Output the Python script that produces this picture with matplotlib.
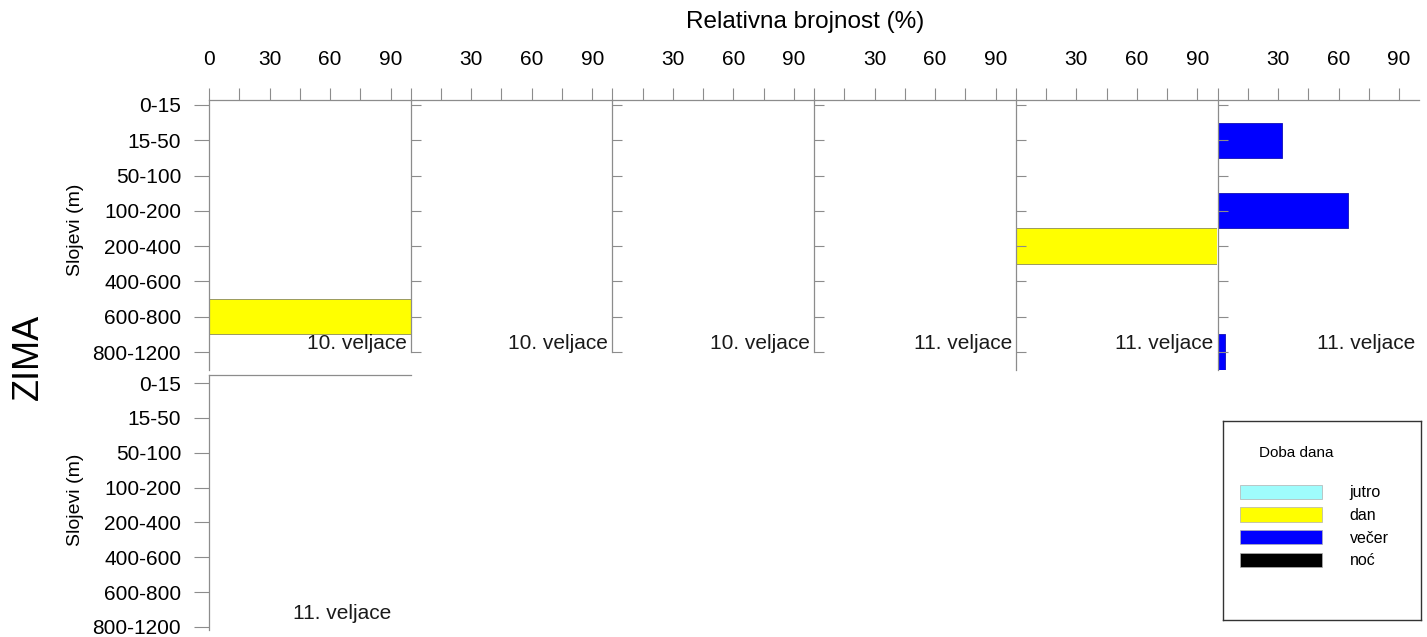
import matplotlib
matplotlib.use('Agg')
import matplotlib.pyplot as plt
from matplotlib.patches import Patch

plt.rcParams['font.family'] = ['Liberation Sans', 'DejaVu Sans']

# depth layers, top to bottom
layers = ['0-15', '15-50', '50-100', '100-200', '200-400', '400-600', '600-800', '800-1200']
panel_dates = ['10. veljace', '10. veljace', '10. veljace', '11. veljace', '11. veljace', '11. veljace']
bottom_date = '11. veljace'

# relative abundance (%) per panel, one value per layer
dan_by_panel = [
    [0, 0, 0, 0, 0, 0, 100, 0],
    [0, 0, 0, 0, 0, 0, 0, 0],
    [0, 0, 0, 0, 0, 0, 0, 0],
    [0, 0, 0, 0, 0, 0, 0, 0],
    [0, 0, 0, 0, 100, 0, 0, 0],
    [0, 0, 0, 0, 0, 0, 0, 0],
]
vecer_by_panel = [
    [0, 0, 0, 0, 0, 0, 0, 0],
    [0, 0, 0, 0, 0, 0, 0, 0],
    [0, 0, 0, 0, 0, 0, 0, 0],
    [0, 0, 0, 0, 0, 0, 0, 0],
    [0, 0, 0, 0, 0, 0, 0, 0],
    [0, 32, 0, 64.5, 0, 0, 0, 3.5],
]

legend_labels = ['jutro', 'dan', 'večer', 'noć']
legend_colors = ['#9ffcfc', '#ffff00', '#0000ff', '#000000']

W, H = 1427, 637
fig = plt.figure(figsize=(W / 100, H / 100), dpi=100)
grey = '#8c8c8c'


def px_axes(x0, y0, x1, y1):
    return fig.add_axes([x0 / W, 1 - y1 / H, (x1 - x0) / W, (y1 - y0) / H])


def draw_bars(ax, values, color, edge):
    idx = [k for k, v in enumerate(values) if v > 0]
    ax.barh(idx, [values[k] for k in idx], height=1.0, color=color,
            edgecolor=edge, linewidth=0.7)


panel_w = 201.7
for i in range(6):
    left = 209 + i * panel_w
    ax = px_axes(left, 100, left + panel_w, 370)
    ax.set_xlim(0, 100)
    ax.set_ylim(7.51, -0.14)
    draw_bars(ax, dan_by_panel[i], legend_colors[1], '#9a9a60')
    draw_bars(ax, vecer_by_panel[i], legend_colors[2], '#2020c0')

    ax.xaxis.tick_top()
    ax.set_xticks([0, 30, 60, 90])
    ax.set_xticks([15, 45, 75], minor=True)
    ax.set_xticklabels(['0' if i == 0 else '', '30', '60', '90'])
    ax.tick_params(axis='x', which='both', direction='out', length=9, width=0.8,
                   color=grey, labelsize=15, pad=13, top=True, bottom=False)

    ax.set_yticks(range(len(layers)))
    if i == 0:
        ax.set_yticklabels(layers)
        ax.tick_params(axis='y', direction='out', length=11, width=0.8,
                       color=grey, labelsize=15, pad=9)
    else:
        ax.set_yticklabels([])
        ax.tick_params(axis='y', direction='in', length=7, width=0.8, color=grey)

    for s in ('right', 'bottom'):
        ax.spines[s].set_visible(False)
    for s in ('left', 'top'):
        ax.spines[s].set_color(grey)
        ax.spines[s].set_linewidth(0.9)
    if i in (1, 2, 3):
        ax.spines['left'].set_bounds(-0.14, 7.0)
    ax.patch.set_alpha(0)

    ax.text(98, 6.75, panel_dates[i], ha='right', va='center', fontsize=15, color='#1a1a1a')

# bottom panel
axb = px_axes(209, 375, 209 + panel_w, 630)
axb.set_xlim(0, 100)
axb.set_ylim(7.09, -0.23)
axb.set_xticks([])
axb.set_yticks(range(len(layers)))
axb.set_yticklabels(layers)
axb.tick_params(axis='y', direction='out', length=11, width=0.8,
                color=grey, labelsize=15, pad=9)
for s in ('right', 'bottom'):
    axb.spines[s].set_visible(False)
for s in ('left', 'top'):
    axb.spines[s].set_color(grey)
    axb.spines[s].set_linewidth(0.9)
axb.text(66, 6.62, bottom_date, ha='center', va='center', fontsize=15, color='#1a1a1a')

# titles
fig.text(805 / W, 1 - 22 / H, 'Relativna brojnost (%)', ha='center', va='center', fontsize=17.5)
fig.text(75 / W, 1 - 230 / H, 'Slojevi (m)', ha='center', va='center', rotation=90, fontsize=14)
fig.text(75 / W, 1 - 500 / H, 'Slojevi (m)', ha='center', va='center', rotation=90, fontsize=14)
fig.text(28 / W, 1 - 357 / H, 'ZIMA', ha='center', va='center', rotation=90, fontsize=26)

# legend box
axl = px_axes(1223, 421, 1421, 620)
axl.set_xticks([])
axl.set_yticks([])
for s in axl.spines.values():
    s.set_color('#333333')
    s.set_linewidth(1.0)
axl.text((1296 - 1223) / 198, (620 - 453) / 199, 'Doba dana', ha='center', va='center',
         fontsize=11, transform=axl.transAxes)
handles = [Patch(facecolor=c, edgecolor='#b0b0b0', linewidth=0.5) for c in legend_colors]
axl.legend(handles, legend_labels, loc='upper left', bbox_to_anchor=(0.088, 0.68),
           frameon=False, borderpad=0, borderaxespad=0, fontsize=11.5, handlelength=5.1,
           handleheight=1.0, labelspacing=0.44, handletextpad=1.75)

fig.savefig('out.png', dpi=100)
